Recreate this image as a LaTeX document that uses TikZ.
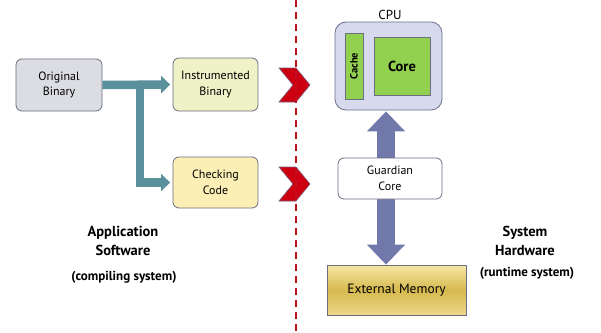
\documentclass[tikz,border=0pt]{standalone}
\usepackage{fontspec}
\setmainfont{PT Sans}
\usetikzlibrary{arrows.meta,backgrounds,calc}
\definecolor{boxborder}{HTML}{6B6E80}
\definecolor{graybox}{HTML}{DCDDE2}
\definecolor{instrfill}{HTML}{EEF2C6}
\definecolor{checkfill}{HTML}{FCEFB6}
\definecolor{cpufill}{HTML}{D7DAEC}
\definecolor{cpuborder}{HTML}{6A6F8C}
\definecolor{greenbox}{HTML}{92D050}
\definecolor{tealarr}{HTML}{5A8F9C}
\definecolor{bluearr}{HTML}{7178AA}
\definecolor{chevred}{HTML}{CC0010}
\definecolor{chevborder}{HTML}{7A5A78}
\definecolor{dashred}{HTML}{C01020}
\definecolor{memtop}{HTML}{F6E7A6}
\definecolor{memmid}{HTML}{D6B94E}
\definecolor{membot}{HTML}{EDD68A}
\begin{document}
\begin{tikzpicture}[x=1pt,y=-1pt,
  box/.style={draw=boxborder, line width=0.8pt, rounded corners=6pt, align=center,
    inner sep=0pt, font=\fontsize{12}{15.5}\selectfont},
  greenpart/.style={draw=boxborder, line width=0.8pt, fill=greenbox, inner sep=0pt,
    font=\bfseries\fontsize{14.5}{16}\selectfont},
  tealarrow/.style={draw=tealarr, line width=8.5pt, shorten >=2.5pt,
    -{Triangle[width=17pt,length=9pt]}},
  bluearrow/.style={draw=bluearr, line width=18pt,
    {Triangle[width=37pt,length=20pt]}-{Triangle[width=37pt,length=20pt]}},
  chevron/.style={fill=chevred, draw=chevborder, line width=0.6pt},
  label/.style={align=center, font=\bfseries\fontsize{14.5}{19}\selectfont},
  sublabel/.style={font=\bfseries\fontsize{13}{15}\selectfont}
]
\useasboundingbox (0,0) rectangle (601,332);
\begin{pgfonlayer}{background}
  \fill[white] (0,0) rectangle (601,332);
\end{pgfonlayer}

% left side boxes
\node[box, fill=graybox, minimum width=86pt, minimum height=52pt] (orig) at (59,85) {Original\\Binary};
\node[box, fill=instrfill, minimum width=85pt, minimum height=53pt] (instr) at (215.5,84.5) {Instrumented\\Binary};
\node[box, fill=checkfill, minimum width=85pt, minimum height=51pt] (check) at (215.5,182.5) {Checking\\Code};

% teal arrows
\coordinate (split) at (140,85);
\draw[tealarrow] (orig.east) -- (instr.west);
\draw[tealarrow] (split) |- (check.west);

% chevrons
\draw[chevron] (279,68) -- (296,68) -- (310,85) -- (296,102) -- (279,102) -- (293,85) -- cycle;
\draw[chevron] (279,167) -- (296,167) -- (310,184) -- (296,201) -- (279,201) -- (293,184) -- cycle;

% dashed divider
\coordinate (divtop) at (296,0);
\coordinate (divbot) at (296,332);
\draw[dashred, line width=1.6pt, dash pattern=on 7pt off 5pt] (divtop) -- (divbot);

% CPU
\node[box, fill=cpufill, draw=cpuborder, rounded corners=11pt, minimum width=107pt, minimum height=88pt] (cpu) at (388.5,66) {};
\node[font=\fontsize{13}{15}\selectfont] (cpulabel) at (390,15) {CPU};
\node[greenpart, minimum width=18pt, minimum height=66pt] (cache) at (354,66) {};
\node[rotate=90, font=\bfseries\fontsize{10.5}{12}\selectfont] (cachetext) at (cache.center) {Cache};
\node[greenpart, minimum width=56pt, minimum height=58pt] (core) at (402,66) {Core};

% guardian and memory
\node[box, fill=white, minimum width=104pt, minimum height=41pt] (guard) at (390,178.5) {Guardian\\Core};
\node[draw=boxborder, line width=0.8pt, top color=memtop, bottom color=membot, middle color=memmid,
  minimum width=139pt, minimum height=50pt, inner sep=0pt, font=\fontsize{13.5}{15}\selectfont] (mem) at (396.5,290) {External Memory};

\begin{pgfonlayer}{background}
  \coordinate (atop) at ($(cpu.south)+(-2.5,1)$);
  \coordinate (abot) at (atop |- mem.north);
  \draw[bluearrow] (atop) -- (abot);
\end{pgfonlayer}

% labels
\node[label] (appsw) at (123,241) {Application\\Software};
\node[sublabel] (compsys) at (124,277) {(compiling system)};
\node[label] (syshw) at (525,241) {System\\Hardware};
\node[sublabel] (runsys) at (527,273) {(runtime system)};
\end{tikzpicture}
\end{document}
